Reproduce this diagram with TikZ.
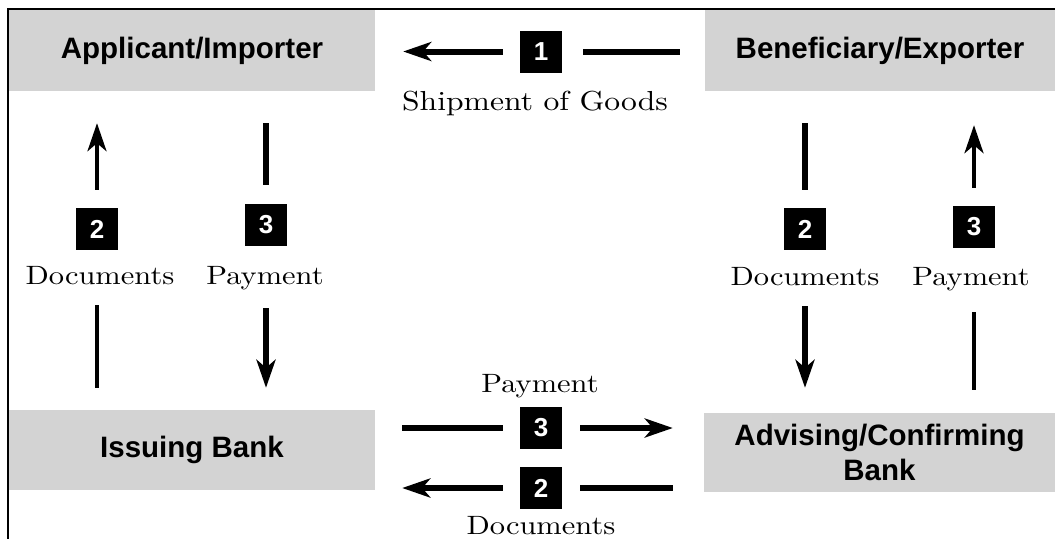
\documentclass[tikz,border=0pt]{standalone}
\usepackage{fontspec}
\setsansfont{Liberation Sans}
\newfontfamily\lblfont{lmroman10-regular}[Extension=.otf, FakeStretch=1.15]
\usetikzlibrary{arrows.meta}
\definecolor{boxgray}{RGB}{211,211,211}

\begin{document}
\begin{tikzpicture}[x=1pt, y=-1pt,
    party/.style={fill=boxgray, minimum height=81pt, inner sep=0pt, align=center,
        font=\sffamily\bfseries\fontsize{29.5}{35}\selectfont},
    num/.style={fill=black, text=white, minimum size=42pt, inner sep=0pt,
        font=\sffamily\bfseries\fontsize{26}{26}\selectfont},
    lbl/.style={anchor=base, inner sep=0pt, text depth=0pt,
        font=\lblfont\fontsize{26.5}{30}\selectfont},
    flow/.style={line width=6pt},
    flowthin/.style={line width=4pt},
    arrowed/.style={-{Stealth[length=28pt, width=19pt, inset=8pt]}}]
			%%%%% START %%%%%
			\useasboundingbox (0,0) rectangle (1055,539);
			
			\node[party, minimum width=366pt] (app) at (192,50.5) {Applicant/Importer};
			\node[party, minimum width=350pt] (ben) at (880,50.5) {Beneficiary/Exporter};
			\node[party, minimum width=366pt, minimum height=80pt] (iss) at (192,450) {Issuing Bank};
			\node[party, minimum width=351pt, minimum height=79pt] (adv) at (879.5,452.5) {Advising/Confirming\\Bank};
			
			\draw[line width=2pt] (1055,9) -- (8,9) -- (8,539);
			
			\node[num] (n1) at (541,51.5) {1};
			\node[num] (n2l) at (97,229) {2};
			\node[num] (n3l) at (266,225) {3};
			\node[num] (n2r) at (805,229) {2};
			\node[num] (n3r) at (974,227) {3};
			\node[num] (n3b) at (541,428) {3};
			\node[num] (n2b) at (541,488) {2};
			
			\node[lbl, font=\lblfont\fontsize{27.5}{30}\selectfont] (ship) at (535,110) {Shipment of Goods};
			\node[lbl] (docl) at (100,284) {Documents};
			\node[lbl] (payl) at (265,284) {Payment};
			\node[lbl] (docr) at (805,285) {Documents};
			\node[lbl] (payr) at (971,285) {Payment};
			\node[lbl] (payb) at (540,392) {Payment};
			\node[lbl] (docb) at (541,534) {Documents};
			
			% shipment
			\draw[flow, shorten <=25pt, shorten >=21pt] (ben.west |- n1) -- (n1.east);
			\draw[flow, arrowed, shorten <=17pt, shorten >=28pt] (n1.west) -- (app.east |- n1);
			
			% importer side
			\draw[flowthin, arrowed, shorten <=18pt, shorten >=32pt] (n2l.north) -- (app.south -| n2l);
			\draw[flowthin, shorten <=22pt, shorten >=21pt] (iss.north -| n2l) -- (docl.south -| n2l);
			\draw[flow, shorten <=32pt, shorten >=19pt] (app.south -| n3l) -- (n3l.north);
			\draw[flow, arrowed, shorten <=24pt, shorten >=22pt] (payl.south -| n3l) -- (iss.north -| n3l);
			
			% exporter side
			\draw[flow, shorten <=32pt, shorten >=18pt] (ben.south -| n2r) -- (n2r.north);
			\draw[flow, arrowed, shorten <=21pt, shorten >=25pt] (docr.south -| n2r) -- (adv.north -| n2r);
			\draw[flowthin, arrowed, shorten <=18pt, shorten >=34pt] (n3r.north) -- (ben.south -| n3r);
			\draw[flowthin, shorten <=23pt, shorten >=27pt] (adv.north -| n3r) -- (payr.south -| n3r);
			
			% between banks
			\draw[flow, shorten <=27pt, shorten >=17pt] (iss.east |- n3b) -- (n3b.west);
			\draw[flow, arrowed, shorten <=18pt, shorten >=31pt] (n3b.east) -- (adv.west |- n3b);
			\draw[flow, shorten <=31pt, shorten >=18pt] (adv.west |- n2b) -- (n2b.east);
			\draw[flow, arrowed, shorten <=17pt, shorten >=27pt] (n2b.west) -- (iss.east |- n2b);
			%%%%% END %%%%%
		\end{tikzpicture}
\end{document}
